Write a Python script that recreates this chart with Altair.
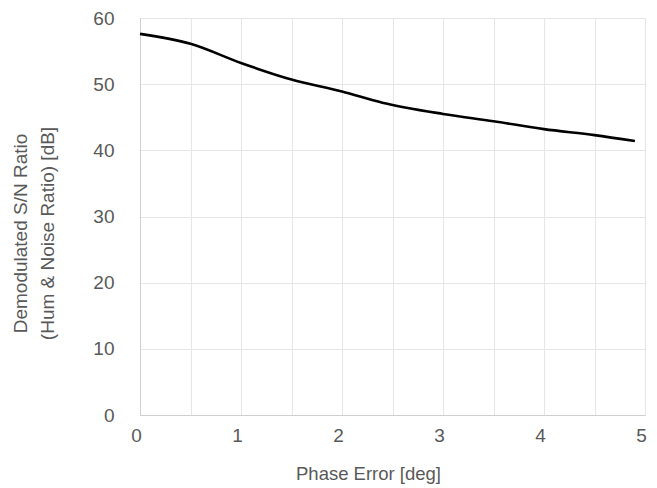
import altair as alt
import pandas as pd

phase_error = [0, 0.5, 1, 1.5, 2, 2.4, 3, 3.5, 4, 4.5, 4.9]
sn_ratio = [57.6, 56.1, 53.2, 50.7, 48.9, 47.2, 45.5, 44.4, 43.2, 42.3, 41.4]
x_ticks = [0, 0.5, 1, 1.5, 2, 2.5, 3, 3.5, 4, 4.5, 5]
y_ticks = [0, 10, 20, 30, 40, 50, 60]

df = pd.DataFrame({"x": phase_error, "y": sn_ratio})

FONT = "Liberation Sans"
LABEL_COLOR = "#595959"

chart = alt.Chart(df).mark_line(color="black", strokeWidth=2.6, interpolate="monotone").encode(
    x=alt.X("x:Q", scale=alt.Scale(domain=[0, 5], nice=False),
            axis=alt.Axis(values=x_ticks, title="Phase Error [deg]",
                          labelExpr="datum.value % 1 == 0 ? format(datum.value, 'd') : ''",
                          ticks=False, labelPadding=11, titlePadding=19, labelOffset=-4,
                          labelFontSize=19, titleFontSize=18.5, titleX=228,
                          labelColor=LABEL_COLOR, titleColor=LABEL_COLOR,
                          labelFont=FONT, titleFont=FONT, titleFontWeight="normal",
                          domainColor="#cfcfcf", gridColor="#e6e6e6", labelFlush=False)),
    y=alt.Y("y:Q", scale=alt.Scale(domain=[0, 60], nice=False),
            axis=alt.Axis(values=y_ticks, title=["Demodulated S/N Ratio", "(Hum & Noise Ratio) [dB]"],
                          ticks=False, labelPadding=26, titlePadding=35,
                          labelFontSize=19, titleFontSize=19,
                          labelColor=LABEL_COLOR, titleColor=LABEL_COLOR,
                          labelFont=FONT, titleFont=FONT, titleFontWeight="normal",
                          titleLineHeight=27, titleY=215,
                          domainColor="#cfcfcf", gridColor="#e6e6e6", labelFlush=False)),
).properties(
    width=505, height=397,
    autosize=alt.AutoSizeParams(type="none"),
    padding={"left": 132, "top": 10, "right": 4, "bottom": 70},
).configure_view(stroke="#e6e6e6")

chart.save("out.html", embed_options={"renderer": "svg", "actions": False})
